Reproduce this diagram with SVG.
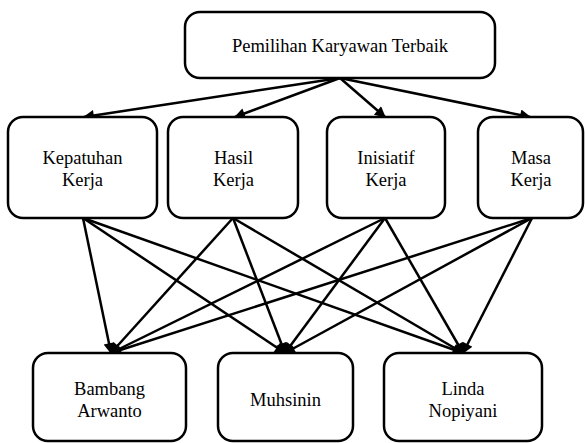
<svg xmlns="http://www.w3.org/2000/svg" width="585" height="443" viewBox="0 0 585 443">
<style>
.box{fill:#fff;stroke:#000;stroke-width:2.5}
text{font-family:'Liberation Serif','DejaVu Serif','Times New Roman',serif;font-size:18.5px;fill:#000;text-anchor:middle}
.c{stroke:#000;stroke-width:2.5;fill:none;marker-end:url(#ah)}
</style>
<defs>
<marker id="ah" viewBox="0 0 10 10" refX="9" refY="5" markerWidth="15" markerHeight="11" markerUnits="userSpaceOnUse" orient="auto">
<path d="M0,0 L10,5 L0,10 z" fill="#000"/>
</marker>
</defs>
<rect width="585" height="443" fill="#fff"/>
<g id="connectors">
<line class="c" x1="340" y1="78" x2="84" y2="117"/>
<line class="c" x1="340" y1="78" x2="235" y2="117"/>
<line class="c" x1="340" y1="78" x2="385" y2="117"/>
<line class="c" x1="340" y1="78" x2="530" y2="117"/>
<line class="c" x1="83" y1="218" x2="111" y2="353"/>
<line class="c" x1="83" y1="218" x2="285" y2="353"/>
<line class="c" x1="83" y1="218" x2="463" y2="353"/>
<line class="c" x1="233" y1="218" x2="111" y2="353"/>
<line class="c" x1="233" y1="218" x2="285" y2="353"/>
<line class="c" x1="233" y1="218" x2="463" y2="353"/>
<line class="c" x1="385" y1="218" x2="111" y2="353"/>
<line class="c" x1="385" y1="218" x2="285" y2="353"/>
<line class="c" x1="385" y1="218" x2="463" y2="353"/>
<line class="c" x1="532" y1="218" x2="111" y2="353"/>
<line class="c" x1="532" y1="218" x2="285" y2="353"/>
<line class="c" x1="532" y1="218" x2="463" y2="353"/>
</g>
<g id="n_top" font-family="Liberation Serif, serif">
<rect class="box" x="185" y="12" width="310" height="66" rx="15"/>
<text x="340" y="52" font-family="Liberation Serif, serif">Pemilihan Karyawan Terbaik</text>
</g>
<g id="n_kepatuhan">
<rect class="box" x="8" y="117" width="149" height="101" rx="15"/>
<text x="82.5" y="164">Kepatuhan</text>
<text x="82.5" y="186">Kerja</text>
</g>
<g id="n_hasil">
<rect class="box" x="168" y="117" width="130" height="101" rx="15"/>
<text x="233.5" y="164">Hasil</text>
<text x="233.5" y="186">Kerja</text>
</g>
<g id="n_inisiatif">
<rect class="box" x="327" y="117" width="118" height="101" rx="15"/>
<text x="386" y="164">Inisiatif</text>
<text x="386" y="186">Kerja</text>
</g>
<g id="n_masa">
<rect class="box" x="478" y="117" width="105" height="101" rx="15"/>
<text x="531" y="164">Masa</text>
<text x="531" y="186">Kerja</text>
</g>
<g id="n_bambang">
<rect class="box" x="33" y="353" width="153" height="88" rx="15"/>
<text x="109.5" y="395">Bambang</text>
<text x="109.5" y="417">Arwanto</text>
</g>
<g id="n_muhsinin">
<rect class="box" x="218" y="353" width="135" height="88" rx="15"/>
<text x="285.5" y="406">Muhsinin</text>
</g>
<g id="n_linda">
<rect class="box" x="384" y="353" width="158" height="88" rx="15"/>
<text x="463" y="395">Linda</text>
<text x="463" y="417">Nopiyani</text>
</g>
</svg>
